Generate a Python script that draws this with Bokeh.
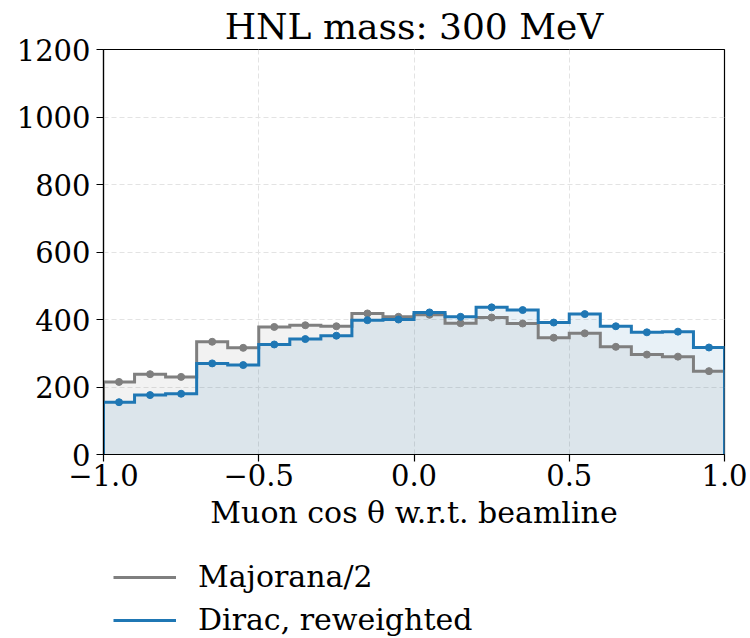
import numpy as np
from bokeh.plotting import figure
from bokeh.layouts import column
from bokeh.models import (Range1d, FixedTicker, Legend, LegendItem)
from bokeh.embed import file_html
from bokeh.resources import INLINE

# ---- data ----
bin_edges = [-1.0, -0.9, -0.8, -0.7, -0.6, -0.5, -0.4, -0.3, -0.2, -0.1, 0.0,
             0.1, 0.2, 0.3, 0.4, 0.5, 0.6, 0.7, 0.8, 0.9, 1.0]
majorana_half = [215, 238, 230, 334, 316, 378, 383, 380, 418, 408,
                 414, 389, 406, 388, 346, 359, 319, 296, 290, 247]
dirac_rew = [155, 176, 180, 270, 265, 326, 342, 352, 398, 400,
             421, 408, 436, 428, 391, 416, 380, 362, 364, 317]
series_labels = ["Majorana/2", "Dirac, reweighted"]
series_colors = ["#7f7f7f", "#1f77b4"]
title_text = "HNL mass: 300 MeV"
x_label = "Muon cos \u03b8 w.r.t. beamline"
x_ticks = [-1.0, -0.5, 0.0, 0.5, 1.0]
x_tick_labels = ["\u22121.0", "\u22120.5", "0.0", "0.5", "1.0"]
y_ticks = [0, 200, 400, 600, 800, 1000, 1200]

FONT = "DejaVu Serif"

p = figure(width=750, height=545, frame_width=621, frame_height=405,
           x_range=Range1d(-1, 1), y_range=Range1d(0, 1200),
           output_backend="svg", toolbar_location=None,
           min_border_left=103, min_border_right=26, min_border_top=48,
           min_border_bottom=92, background_fill_color="white",
           border_fill_color="white")

p.title.text = title_text
p.title.text_font = FONT
p.title.text_font_size = "36px"
p.title.text_font_style = "normal"
p.title.text_color = "black"
p.title.align = "center"
p.title.standoff = 6

p.outline_line_color = "black"
p.outline_line_width = 1.2
p.outline_line_alpha = 1

for ax in (p.xaxis[0], p.yaxis[0]):
    ax.major_label_text_font = FONT
    ax.major_label_text_font_size = "29px"
    ax.major_label_text_color = "black"
    ax.axis_line_color = "black"
    ax.axis_line_width = 1.2
    ax.major_tick_line_color = "black"
    ax.major_tick_line_width = 1.2
    ax.major_tick_out = 7
    ax.major_tick_in = 0
    ax.minor_tick_line_color = None

p.xaxis.ticker = FixedTicker(ticks=x_ticks)
p.xaxis.major_label_overrides = {t: l for t, l in zip(x_ticks, x_tick_labels)}
p.xaxis.major_label_standoff = 2
p.xaxis.axis_label = x_label
p.xaxis.axis_label_text_font = FONT
p.xaxis.axis_label_text_font_size = "30px"
p.xaxis.axis_label_text_font_style = "normal"
p.xaxis.axis_label_text_color = "black"
p.xaxis.axis_label_standoff = 6

p.yaxis.ticker = FixedTicker(ticks=y_ticks)
p.yaxis.major_label_standoff = 6

p.grid.grid_line_color = "#e3e3e3"
p.grid.grid_line_dash = "5 3"
p.grid.grid_line_width = 1
p.grid.grid_line_alpha = 1

edges = np.array(bin_edges)
centers = (edges[:-1] + edges[1:]) / 2

for vals, col in zip([majorana_half, dirac_rew], series_colors):
    y2 = list(vals) + [vals[-1]]
    p.varea_step(x=list(edges), y1=[0] * len(edges), y2=y2, step_mode="after",
                 fill_color=col, fill_alpha=0.1)

for vals, col in zip([majorana_half, dirac_rew], series_colors):
    xs = [edges[0]]
    ys = [0]
    for i, v in enumerate(vals):
        xs += [edges[i], edges[i + 1]]
        ys += [v, v]
    xs.append(edges[-1])
    ys.append(0)
    p.line(xs, ys, line_color=col, line_width=3, line_join="miter")
    p.scatter(list(centers), vals, size=7, color=col, marker="circle")

# ---- legend figure below the plot ----
lf = figure(width=750, height=93, output_backend="svg", toolbar_location=None,
            x_axis_location=None, y_axis_location=None,
            x_range=Range1d(0, 1), y_range=Range1d(0, 1),
            min_border=0, outline_line_color=None,
            background_fill_color="white", border_fill_color="white")
lf.grid.visible = False

legend_items = []
for col, lab in zip(series_colors, series_labels):
    # proxy renderers placed outside the visible range (only used for legend swatches)
    r = lf.line([-10, -9], [-10, -10], line_color=col, line_width=3)
    legend_items.append(LegendItem(label=lab, renderers=[r]))

legend = Legend(items=legend_items, location=(10, 2), orientation="vertical")
legend.label_text_font = FONT
legend.label_text_font_size = "30px"
legend.label_text_color = "black"
legend.glyph_width = 63
legend.glyph_height = 30
legend.label_standoff = 22
legend.label_height = 30
legend.spacing = 8
legend.padding = 0
legend.margin = 0
legend.border_line_color = None
legend.background_fill_alpha = 0
lf.add_layout(legend, "center")

layout = column(p, lf, spacing=0)
open("out.html", "w").write(file_html(layout, INLINE))
